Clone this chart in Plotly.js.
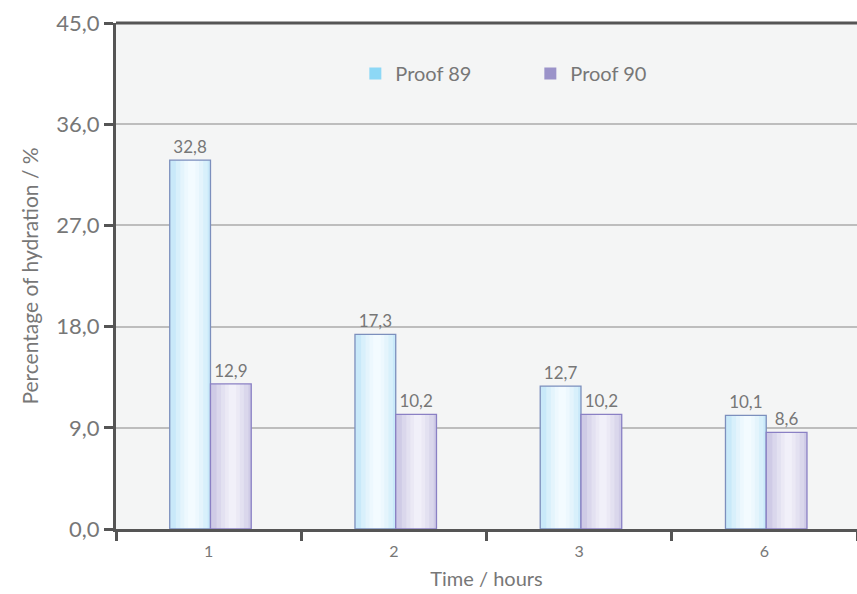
<!DOCTYPE html>
<html>
<head>
<meta charset="utf-8">
<script src="https://cdn.plot.ly/plotly-3.0.1.min.js"></script>
<style>html,body{margin:0;padding:0;background:#fff;}#chart{width:857px;height:594px;}</style>
</head>
<body>
<div id="chart"></div>
<script>
const categories = ['1', '2', '3', '6'];
const proof89 = [32.8, 17.3, 12.7, 10.1];
const proof90 = [12.9, 10.2, 10.2, 8.6];
const seriesNames = ['Proof 89', 'Proof 90'];
const tickValsY = [0, 9, 18, 27, 36, 45];

const W = 0.22;
const SHIFT = 0.01;
function fmt(v){ return v.toFixed(1).replace('.', ','); }

function seriesTraces(vals, offset, shades, border){
  const tr = [];
  const widths = [W, W*0.78, W*0.56, W*0.36, W*0.18];
  widths.forEach((w, i) => {
    tr.push({
      type: 'bar', x: categories, y: vals,
      offset: offset + (W - w)/2 + W*0.04*(i>0?1:0), width: w,
      marker: {color: shades[i], line: {width: 0}},
      showlegend: false, hoverinfo: 'skip'
    });
  });
  tr.push({
    type: 'bar', x: categories, y: vals, offset: offset, width: W,
    marker: {color: 'rgba(0,0,0,0)', line: {color: border, width: 1.3}},
    text: vals.map(fmt), textposition: 'outside', cliponaxis: false,
    textfont: {family: 'Lato, sans-serif', size: 17, color: '#777'},
    showlegend: false, hoverinfo: 'skip'
  });
  return tr;
}

const data = [].concat(
  seriesTraces(proof89, -W + SHIFT, ['#c9e9f9', '#d8f0fb', '#e4f4fc', '#edf8fe', '#f3fbff'], '#7c8fbd'),
  seriesTraces(proof90, SHIFT, ['#cfcbe6', '#dad7ec', '#e3e1f1', '#ebe9f5', '#f1f0f9'], '#8a80c4'),
  [
    {type: 'scatter', mode: 'markers', x: [null], y: [null], name: seriesNames[0],
     marker: {symbol: 'square', size: 12, color: '#8dd8f6'}},
    {type: 'scatter', mode: 'markers', x: [null], y: [null], name: seriesNames[1],
     marker: {symbol: 'square', size: 12, color: '#9b93c9'}}
  ]
);

const layout = {
  width: 857, height: 594,
  margin: {l: 116, r: 0, t: 23, b: 65},
  paper_bgcolor: '#ffffff',
  plot_bgcolor: '#f4f5f5',
  barmode: 'overlay',
  separators: ',.',
  font: {family: 'Lato, sans-serif', color: '#777'},
  showlegend: true,
  legend: {
    orientation: 'h', x: 0.323, y: 0.9, xanchor: 'left', yanchor: 'middle',
    bgcolor: 'rgba(0,0,0,0)', font: {size: 20, color: '#777'},
    entrywidth: 130, entrywidthmode: 'pixels', itemsizing: 'constant'
  },
  xaxis: {
    type: 'category', range: [-0.5, 3.5],
    tickson: 'boundaries', ticks: 'outside', ticklen: 9, tickwidth: 3, tickcolor: '#555',
    ticklabelstandoff: 6,
    showline: true, linecolor: '#555', linewidth: 3,
    showgrid: false, zeroline: false,
    tickfont: {size: 16, color: '#777'},
    title: {text: 'Time / hours', font: {size: 20, color: '#777'}, standoff: 13}
  },
  yaxis: {
    range: [0, 45], tickvals: tickValsY, tickformat: '.1f',
    ticks: 'outside', ticklen: 9, tickwidth: 3, tickcolor: '#555',
    showline: true, linecolor: '#555', linewidth: 3,
    showgrid: true, gridcolor: '#bdbdbd', gridwidth: 2,
    zeroline: false,
    tickfont: {size: 22, color: '#777'},
    title: {text: 'Percentage of hydration / %', font: {size: 21, color: '#777'}, standoff: 12}
  },
  shapes: [
    {type: 'line', xref: 'paper', yref: 'paper', x0: 0, x1: 1, y0: 1, y1: 1,
     line: {color: '#555', width: 3}}
  ]
};

Plotly.newPlot('chart', data, layout, {displayModeBar: false, staticPlot: true});
</script>
</body>
</html>
